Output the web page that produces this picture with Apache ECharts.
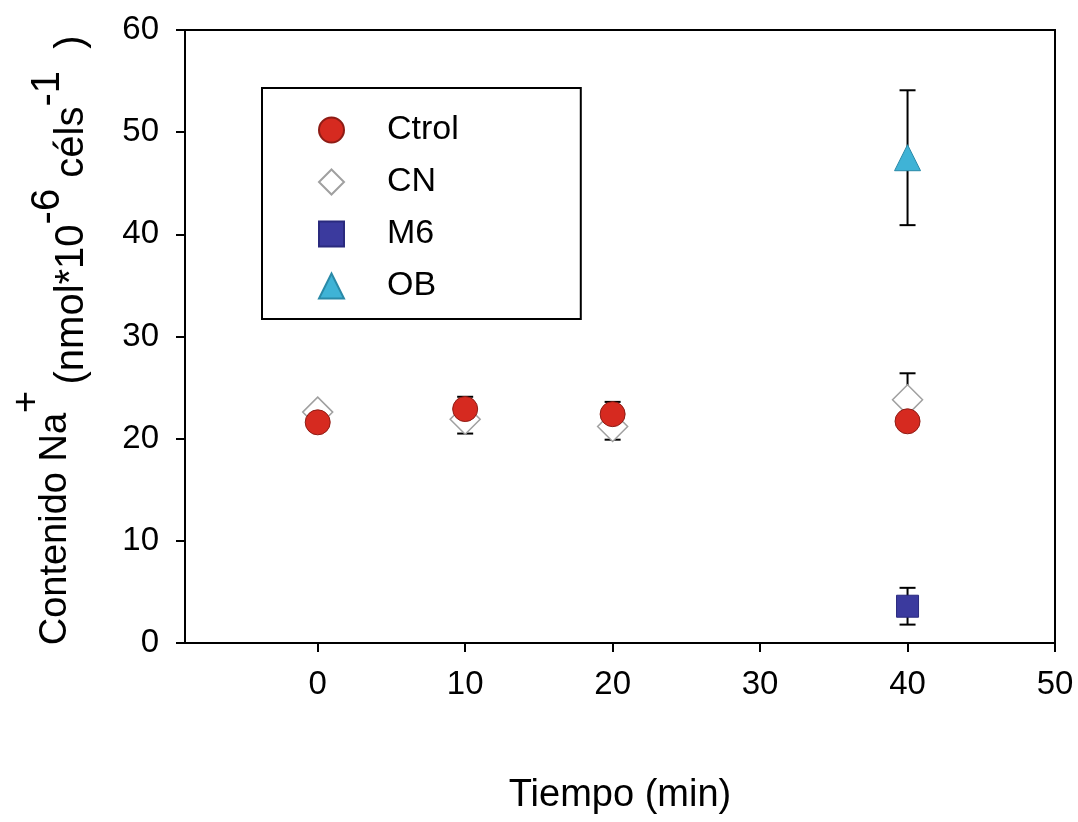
<!DOCTYPE html>
<html>
<head>
<meta charset="utf-8">
<title>Contenido Na+</title>
<script src="https://cdn.jsdelivr.net/npm/echarts@6/dist/echarts.min.js"></script>
<style>
  html, body { margin: 0; padding: 0; background: #fff; }
  #chart { width: 1078px; height: 822px; }
</style>
</head>
<body>
<div id="chart"></div>
<script>
// ejes
const xTicks = [0, 10, 20, 30, 40, 50]
const FONT = '"Liberation Sans", Arial, sans-serif'

// series (tiempo, media, error)
const ctrolTimes = [0, 10, 20, 40]
const ctrolMean = [21.6, 22.9, 22.4, 21.7]
const ctrolErr = [0.5, 1.2, 1.2, 0.6]

const cnTimes = [0, 10, 20, 40]
const cnMean = [22.6, 21.9, 21.2, 23.8]
const cnErr = [0.5, 1.4, 1.3, 2.6]

const m6Times = [40]
const m6Mean = [3.6]
const m6Err = [1.8]

const obTimes = [40]
const obMean = [47.5]
const obErr = [6.6]

const toPoints = (t, m) => t.map((x, i) => [x, m[i]])
const toBars = (t, m, e) => t.map((x, i) => [x, m[i] - e[i], m[i] + e[i]])

// barras de error con custom series
function errorBars(name, bars) {
  return {
    name: name + '_err',
    type: 'custom',
    z: 1,
    silent: true,
    data: bars,
    encode: { x: 0, y: [1, 2] },
    renderItem: (params, api) => {
      const lo = api.coord([api.value(0), api.value(1)])
      const hi = api.coord([api.value(0), api.value(2)])
      const w = 8
      const st = { stroke: '#000', lineWidth: 2 }
      return {
        type: 'group',
        children: [
          { type: 'line', shape: { x1: lo[0], y1: lo[1], x2: hi[0], y2: hi[1] }, style: st },
          { type: 'line', shape: { x1: hi[0] - w, y1: hi[1], x2: hi[0] + w, y2: hi[1] }, style: st },
          { type: 'line', shape: { x1: lo[0] - w, y1: lo[1], x2: lo[0] + w, y2: lo[1] }, style: st }
        ]
      }
    }
  }
}

const chart = echarts.init(document.getElementById('chart'))

const option = {
  backgroundColor: '#fff',
  animation: false,
  textStyle: { fontFamily: FONT },
  grid: {
    left: 185, right: 23, top: 30, bottom: 179,
    show: true, borderColor: '#000', borderWidth: 2
  },
  legend: {
    data: ['Ctrol', 'CN', 'M6', 'OB'],
    orient: 'vertical',
    left: 262, top: 88,
    padding: [25, 122, 16, 56],
    itemGap: 18,
    itemWidth: 25, itemHeight: 25,
    borderColor: '#000', borderWidth: 2,
    textStyle: { fontSize: 34, color: '#000', fontFamily: FONT, padding: [0, 0, 0, 38] }
  },
  xAxis: {
    type: 'value', min: -9, max: 50,
    name: 'Tiempo (min)',
    nameLocation: 'middle', nameGap: 134,
    nameTextStyle: { fontSize: 38, color: '#000', fontFamily: FONT },
    axisLine: { onZero: false, lineStyle: { color: '#000', width: 2 } },
    axisTick: { customValues: xTicks, length: 9, lineStyle: { color: '#000', width: 2 } },
    axisLabel: { customValues: xTicks, fontSize: 33, color: '#000', margin: 25 },
    splitLine: { show: false }
  },
  yAxis: {
    type: 'value', min: 0, max: 60, interval: 10,
    axisLine: { show: true, onZero: false, lineStyle: { color: '#000', width: 2 } },
    axisTick: { show: true, length: 9, lineStyle: { color: '#000', width: 2 } },
    axisLabel: { fontSize: 33, color: '#000', margin: 26 },
    splitLine: { show: false }
  },
  graphic: [
    {
      type: 'text', x: 75, y: 518, rotation: Math.PI / 2,
      style: {
        text: '{n|Contenido Na}{s|+}',
        textAlign: 'center', textVerticalAlign: 'bottom',
        rich: {
          n: { fontSize: 38, fontFamily: FONT, fill: '#000', verticalAlign: 'bottom' },
          s: { fontSize: 38, fontFamily: FONT, fill: '#000', verticalAlign: 'bottom', padding: [0, 0, 28, 0] }
        }
      }
    },
    {
      type: 'text', x: 92, y: 210, rotation: Math.PI / 2,
      style: {
        text: '{n|(nmol*10}{s|-6}{n| céls}{s|-1}{n|  )}',
        textAlign: 'center', textVerticalAlign: 'bottom',
        rich: {
          n: { fontSize: 40, fontFamily: FONT, fill: '#000', verticalAlign: 'bottom' },
          s: { fontSize: 40, fontFamily: FONT, fill: '#000', verticalAlign: 'bottom', padding: [0, 0, 24, 0] }
        }
      }
    }
  ],
  series: [
    errorBars('CN', toBars(cnTimes, cnMean, cnErr)),
    errorBars('Ctrol', toBars(ctrolTimes, ctrolMean, ctrolErr)),
    errorBars('M6', toBars(m6Times, m6Mean, m6Err)),
    errorBars('OB', toBars(obTimes, obMean, obErr)),
    {
      name: 'Ctrol', type: 'scatter', z: 4,
      data: toPoints(ctrolTimes, ctrolMean),
      symbol: 'circle', symbolSize: 25,
      itemStyle: { color: '#d62a20', borderColor: '#8e1c15', borderWidth: 1, opacity: 1 }
    },
    {
      name: 'CN', type: 'scatter', z: 3,
      data: toPoints(cnTimes, cnMean),
      symbol: 'diamond', symbolSize: 30,
      itemStyle: { color: '#ffffff', borderColor: '#a0a0a0', borderWidth: 1.5, opacity: 1 }
    },
    {
      name: 'M6', type: 'scatter', z: 4,
      data: toPoints(m6Times, m6Mean),
      symbol: 'rect', symbolSize: 22,
      itemStyle: { color: '#3b3a9e', borderColor: '#2a2a7e', borderWidth: 1, opacity: 1 }
    },
    {
      name: 'OB', type: 'scatter', z: 4,
      data: toPoints(obTimes, obMean),
      symbol: 'triangle', symbolSize: 26,
      itemStyle: { color: '#3fb3d6', borderColor: '#2a8aa8', borderWidth: 1, opacity: 1 }
    }
  ]
}
chart.setOption(option)
</script>
</body>
</html>
